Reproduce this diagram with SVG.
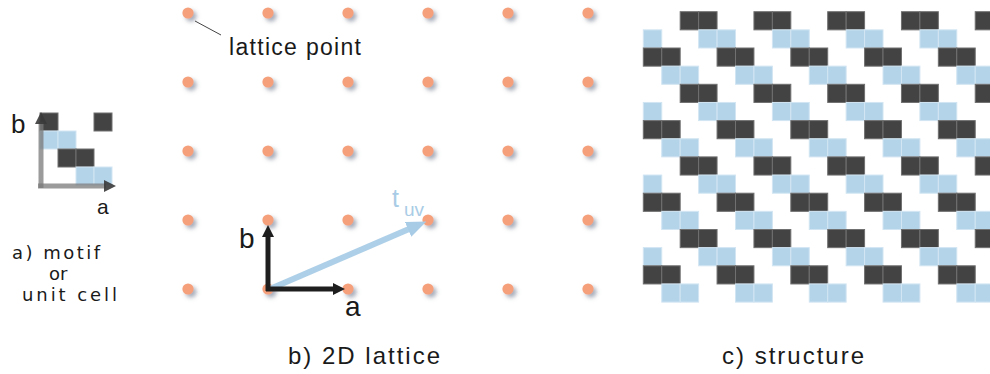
<svg xmlns="http://www.w3.org/2000/svg" xmlns:xlink="http://www.w3.org/1999/xlink" width="990" height="374" viewBox="0 0 990 374">
<style>
.t{font-family:"Liberation Sans",Arial,sans-serif;fill:#1a1a1a}
.m{font-family:"DejaVu Sans","Liberation Sans",sans-serif;fill:#1a1a1a}
.dk{fill:#434343;stroke:#707070;stroke-width:1}
.lb{fill:#b4d4ea;stroke:#d2e5f2;stroke-width:1}
.pt{fill:#f5a07a;filter:url(#sh)}
.blk{stroke:#1e1e1e;stroke-width:5;fill:none;stroke-linecap:butt}
.gax{stroke:#7a7a7a;stroke-opacity:0.75;stroke-width:5;fill:none}
.blu{stroke:#a9cce6;stroke-width:6;fill:none}
</style>
<defs>
<filter id="sh" x="-1" y="-1" width="3" height="3"><feDropShadow dx="3" dy="3" stdDeviation="2.2" flood-color="#6c7488" flood-opacity="0.6"/></filter>
<marker id="mkD" viewBox="0 0 12 12" markerWidth="12" markerHeight="12" refX="2" refY="6" orient="auto" markerUnits="userSpaceOnUse"><path d="M0,0 L12,6 L0,12 z" fill="#1e1e1e"/></marker>
<marker id="mkG" viewBox="0 0 12 12" markerWidth="12" markerHeight="12" refX="2" refY="6" orient="auto" markerUnits="userSpaceOnUse"><path d="M0,0 L12,6 L0,12 z" fill="#3a3a3a" fill-opacity="0.9"/></marker>
<marker id="mkB" viewBox="0 0 20 16" markerWidth="20" markerHeight="16" refX="1" refY="8" orient="auto" markerUnits="userSpaceOnUse"><path d="M0,0 L20,8 L0,16 z" fill="#a9cce6"/></marker>
<g id="tile">
<rect class="dk" x="36.88" y="0" width="18.44" height="18.15"/>
<rect class="dk" x="55.32" y="0" width="18.44" height="18.15"/>
<rect class="lb" x="0" y="18.15" width="18.44" height="18.15"/>
<rect class="lb" x="55.32" y="18.15" width="18.44" height="18.15"/>
<rect class="dk" x="0" y="36.3" width="18.44" height="18.15"/>
<rect class="dk" x="18.44" y="36.3" width="18.44" height="18.15"/>
<rect class="lb" x="18.44" y="54.45" width="18.44" height="18.15"/>
<rect class="lb" x="36.88" y="54.45" width="18.44" height="18.15"/>
</g>
<g id="row4">
<use xlink:href="#tile" x="0"/>
<use xlink:href="#tile" x="73.76"/>
<use xlink:href="#tile" x="147.52"/>
<use xlink:href="#tile" x="221.28"/>
<use xlink:href="#tile" x="295.04"/>
</g>
</defs>
<rect width="990" height="374" fill="#ffffff"/>

<g id="motif">
<rect class="dk" x="40" y="113" width="18" height="18"/>
<rect class="dk" x="94" y="113" width="18" height="18"/>
<rect class="lb" x="40" y="131" width="18" height="18"/>
<rect class="lb" x="58" y="131" width="18" height="18"/>
<rect class="dk" x="58" y="149" width="18" height="18"/>
<rect class="dk" x="76" y="149" width="18" height="18"/>
<rect class="lb" x="76" y="167" width="18" height="18"/>
<rect class="lb" x="94" y="167" width="18" height="18"/>
</g>

<g id="lattice">
<circle class="pt" cx="188" cy="13" r="5.6"/><circle class="pt" cx="268" cy="13" r="5.6"/><circle class="pt" cx="348" cy="13" r="5.6"/><circle class="pt" cx="428" cy="13" r="5.6"/><circle class="pt" cx="508" cy="13" r="5.6"/><circle class="pt" cx="588" cy="13" r="5.6"/>
<circle class="pt" cx="188" cy="82" r="5.6"/><circle class="pt" cx="268" cy="82" r="5.6"/><circle class="pt" cx="348" cy="82" r="5.6"/><circle class="pt" cx="428" cy="82" r="5.6"/><circle class="pt" cx="508" cy="82" r="5.6"/><circle class="pt" cx="588" cy="82" r="5.6"/>
<circle class="pt" cx="188" cy="151" r="5.6"/><circle class="pt" cx="268" cy="151" r="5.6"/><circle class="pt" cx="348" cy="151" r="5.6"/><circle class="pt" cx="428" cy="151" r="5.6"/><circle class="pt" cx="508" cy="151" r="5.6"/><circle class="pt" cx="588" cy="151" r="5.6"/>
<circle class="pt" cx="188" cy="220" r="5.6"/><circle class="pt" cx="268" cy="220" r="5.6"/><circle class="pt" cx="348" cy="220" r="5.6"/><circle class="pt" cx="428" cy="220" r="5.6"/><circle class="pt" cx="508" cy="220" r="5.6"/><circle class="pt" cx="588" cy="220" r="5.6"/>
<circle class="pt" cx="188" cy="289" r="5.6"/><circle class="pt" cx="268" cy="289" r="5.6"/><circle class="pt" cx="348" cy="289" r="5.6"/><circle class="pt" cx="428" cy="289" r="5.6"/><circle class="pt" cx="508" cy="289" r="5.6"/><circle class="pt" cx="588" cy="289" r="5.6"/>
</g>

<g id="structure">
<use xlink:href="#row4" transform="translate(643.3,11.7)"/>
<use xlink:href="#row4" transform="translate(643.3,84.3)"/>
<use xlink:href="#row4" transform="translate(643.3,156.9)"/>
<use xlink:href="#row4" transform="translate(643.3,229.5)"/>
</g>

<g id="connectors">
<line x1="195" y1="21" x2="221" y2="35" stroke="#444" stroke-width="1"/>
<line class="gax" x1="41" y1="188" x2="41" y2="122" marker-end="url(#mkG)"/>
<line class="gax" x1="38" y1="186" x2="106" y2="186" marker-end="url(#mkG)"/>
<line class="blu" x1="270" y1="289" x2="409" y2="229" stroke-opacity="0.95" marker-end="url(#mkB)"/>
<line class="blk" x1="268" y1="291" x2="268" y2="235" marker-end="url(#mkD)"/>
<line class="blk" x1="266" y1="289" x2="335" y2="289" marker-end="url(#mkD)"/>
</g>

<g id="labels">
<text class="t" x="229" y="55" font-size="23" textLength="132">lattice point</text>
<text class="t" x="11" y="133" font-size="26">b</text>
<text class="t" x="97" y="214" font-size="21">a</text>
<text class="m" x="12" y="259" font-size="18" textLength="88">a) motif</text>
<text class="m" x="49" y="280" font-size="18">or</text>
<text class="m" x="22" y="301" font-size="18" textLength="95">unit cell</text>
<text class="t" x="239" y="248" font-size="28">b</text>
<text class="t" x="345" y="316" font-size="28">a</text>
<text class="t" x="392" y="207" font-size="25" style="fill:#a9cce6">t</text>
<text class="t" x="404" y="216" font-size="19" style="fill:#a9cce6">uv</text>
<text class="t" x="288" y="364" font-size="24" textLength="152">b) 2D lattice</text>
<text class="t" x="722" y="364" font-size="24" textLength="142">c) structure</text>
</g>
</svg>
